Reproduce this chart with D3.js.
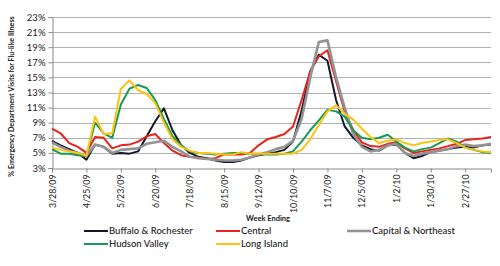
<!DOCTYPE html>
<html>
<head>
<meta charset="utf-8">
<script src="https://cdn.jsdelivr.net/npm/d3@7"></script>
<style>
  body { margin: 0; background: #fff; }
  svg { display: block; font-family: Lato, "Open Sans", sans-serif; }
</style>
</head>
<body>
<div id="chart"></div>
<script>
// weekly % of ED visits for flu-like illness, week ending 3/28/09 .. 3/20/10
const buffaloRochester = [6.6, 6.0, 5.5, 5.0, 4.1, 6.1, 5.8, 4.9, 5.0, 4.9, 5.2, 7.2, 9.2, 10.9, 8.0, 6.0, 5.0, 4.5, 4.3, 4.0,
  3.8, 3.8, 4.0, 4.4, 4.7, 4.9, 5.1, 5.4, 6.5, 10.6, 15.8, 18.0, 17.2, 12.0, 8.5, 7.0, 6.0, 5.5, 5.3, 6.0,
  6.1, 5.0, 4.3, 4.6, 5.1, 5.3, 5.5, 5.7, 5.8, 5.7, 6.0, 6.1];
const central = [8.2, 7.6, 6.3, 5.8, 5.0, 7.1, 7.0, 5.6, 6.0, 6.1, 6.5, 7.2, 7.5, 6.3, 5.3, 4.7, 4.5, 4.4, 4.2, 4.3,
  4.8, 4.8, 4.8, 5.0, 6.0, 6.8, 7.1, 7.5, 8.5, 12.0, 15.8, 17.8, 18.6, 14.5, 10.5, 8.0, 6.4, 5.9, 5.8, 6.2,
  6.4, 5.6, 5.0, 5.2, 5.4, 5.6, 5.9, 6.2, 6.7, 6.8, 6.9, 7.1];
const capitalNortheast = [6.4, 5.8, 5.3, 5.0, 4.6, 6.1, 5.8, 5.0, 5.4, 5.5, 5.6, 6.2, 6.4, 6.6, 5.8, 5.2, 4.5, 4.3, 4.2, 4.1,
  4.0, 4.0, 4.1, 4.4, 4.8, 5.1, 5.5, 5.8, 6.6, 9.5, 15.0, 19.7, 19.9, 15.0, 11.0, 7.5, 5.8, 5.2, 5.4, 6.0,
  6.2, 5.0, 4.6, 4.9, 5.1, 5.3, 5.5, 5.9, 6.1, 5.9, 6.0, 6.2];
const hudsonValley = [5.5, 4.9, 4.9, 4.7, 4.6, 9.0, 7.6, 7.0, 11.4, 13.5, 14.0, 13.6, 12.0, 9.5, 7.2, 6.0, 5.2, 5.0, 4.9, 4.8,
  4.9, 5.0, 5.0, 4.9, 4.9, 4.8, 4.8, 4.9, 5.2, 6.5, 8.0, 9.3, 10.7, 10.5, 9.8, 8.0, 7.0, 6.8, 7.0, 7.4,
  6.5, 5.7, 5.2, 5.5, 5.7, 6.3, 6.9, 6.5, 5.7, 5.4, 5.1, 5.0];
const longIsland = [5.7, 5.4, 5.2, 5.0, 4.6, 9.8, 7.5, 7.6, 13.5, 14.6, 13.3, 12.8, 11.6, 9.0, 6.8, 5.8, 5.3, 5.0, 5.0, 4.9,
  4.8, 4.8, 5.1, 4.9, 4.9, 4.9, 4.9, 4.9, 4.9, 5.4, 6.8, 8.7, 10.5, 11.3, 10.2, 9.4, 8.2, 7.1, 6.3, 6.6,
  6.8, 6.3, 6.0, 6.3, 6.5, 6.7, 6.8, 6.3, 5.7, 5.4, 5.2, 5.1];

const regionNames = ["Buffalo & Rochester", "Central", "Capital & Northeast", "Hudson Valley", "Long Island"];
const regionColors = ["#14172b", "#e8231b", "#939393", "#189a54", "#ffc20e"];
const tickLabels = ["3/28/09", "4/25/09", "5/23/09", "6/20/09", "7/18/09", "8/15/09", "9/12/09",
  "10/10/09", "11/7/09", "12/5/09", "1/2/10", "1/30/10", "2/27/10"];
const yTicks = [3, 5, 7, 9, 11, 13, 15, 17, 19, 21, 23];

const parse = d3.timeParse("%m/%d/%y");
const weekEnding = d3.timeSaturday.range(new Date(2009, 2, 28), new Date(2010, 2, 21));
const seriesValues = [buffaloRochester, central, capitalNortheast, hudsonValley, longIsland];
const series = regionNames.map((name, k) => ({
  name: name,
  color: regionColors[k],
  values: seriesValues[k].map((v, i) => ({ date: weekEnding[i], value: v }))
}));

const width = 500, height = 266;
const margin = { top: 17, right: 9, bottom: 98, left: 52 };

const svg = d3.select("#chart").append("svg")
  .attr("width", width)
  .attr("height", height);

const x = d3.scaleTime()
  .domain(d3.extent(weekEnding))
  .range([margin.left, width - margin.right]);

const y = d3.scaleLinear()
  .domain([3, 23])
  .range([height - margin.bottom, margin.top]);

// gridlines
svg.append("g")
  .selectAll("line")
  .data(yTicks.slice(1))
  .join("line")
  .attr("x1", margin.left)
  .attr("x2", width - margin.right)
  .attr("y1", d => Math.round(y(d)) + 0.5)
  .attr("y2", d => Math.round(y(d)) + 0.5)
  .attr("stroke", "#b3b3b3")
  .attr("stroke-width", 1);

// y axis
const yAxis = svg.append("g")
  .attr("transform", `translate(${margin.left + 0.5},0)`)
  .call(d3.axisLeft(y).tickValues(yTicks).tickFormat(d => d + "%").tickSize(4).tickPadding(3));
yAxis.select(".domain").attr("stroke", "#8a8a8a");
yAxis.selectAll(".tick line").attr("stroke", "#8a8a8a");
yAxis.selectAll(".tick text")
  .attr("font-size", 9.5)
  .attr("font-family", "Lato, sans-serif")
  .attr("fill", "#222");

// x axis
const xAxis = svg.append("g")
  .attr("transform", `translate(0,${Math.round(y(3)) + 0.5})`)
  .call(d3.axisBottom(x)
    .tickValues(tickLabels.map(parse))
    .tickFormat(d3.timeFormat("%-m/%-d/%y"))
    .tickSize(4));
xAxis.select(".domain").attr("stroke", "#8a8a8a");
xAxis.selectAll(".tick line").attr("stroke", "#8a8a8a");
xAxis.selectAll(".tick text")
  .attr("font-size", 8.8)
  .attr("font-family", "Lato, sans-serif")
  .attr("fill", "#222")
  .attr("text-anchor", "end")
  .attr("transform", "rotate(-90)")
  .attr("x", -6)
  .attr("y", 0)
  .attr("dy", "0.35em");

// axis titles
svg.append("text")
  .attr("transform", `translate(14,${(margin.top + height - margin.bottom) / 2 + 4}) rotate(-90)`)
  .attr("text-anchor", "middle")
  .attr("font-size", 7.2)
  .attr("font-weight", "bold")
  .attr("fill", "#222")
  .text("% Emergency Department Visits for Flu-like Illness");

svg.append("text")
  .attr("x", 268)
  .attr("y", 221)
  .attr("text-anchor", "middle")
  .attr("font-size", 7.5)
  .attr("font-weight", "bold")
  .attr("fill", "#222")
  .text("Week Ending");

// lines
const line = d3.line()
  .x(d => x(d.date))
  .y(d => y(d.value));

svg.append("g")
  .selectAll("path")
  .data(series)
  .join("path")
  .attr("fill", "none")
  .attr("stroke", d => d.color)
  .attr("stroke-width", d => d.name === "Capital & Northeast" ? 2.6 : 2)
  .attr("stroke-linejoin", "round")
  .attr("d", d => line(d.values));

// legend
const legendPos = [[84, 231], [216, 231], [347, 231], [84, 244], [216, 244]];
const legend = svg.append("g")
  .selectAll("g")
  .data(series)
  .join("g")
  .attr("transform", (d, i) => `translate(${legendPos[i][0]},${legendPos[i][1]})`);

legend.append("line")
  .attr("x1", 0)
  .attr("x2", 24)
  .attr("stroke", d => d.color)
  .attr("stroke-width", d => d.name === "Capital & Northeast" ? 2.6 : 2);

legend.append("text")
  .attr("x", 25)
  .attr("dy", "0.35em")
  .attr("font-size", 9.5)
  .attr("font-weight", 500)
  .attr("fill", "#1a1a1a")
  .text(d => d.name);
</script>
</body>
</html>
